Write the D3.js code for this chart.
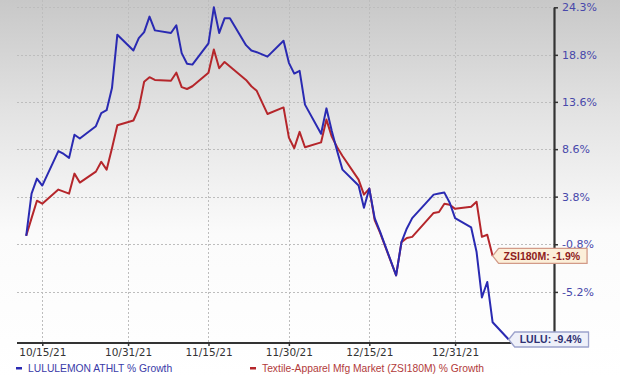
<!DOCTYPE html>
<html><head><meta charset="utf-8">
<script src="https://cdn.jsdelivr.net/npm/d3@7"></script>
<style>html,body{margin:0;padding:0;background:#fff}svg{display:block}</style>
</head><body>
<svg id="c" width="620" height="378"></svg>
<script>
const dates = [
"2021-10-12","2021-10-13","2021-10-14","2021-10-15",
"2021-10-18","2021-10-19","2021-10-20","2021-10-21","2021-10-22",
"2021-10-25","2021-10-26","2021-10-27","2021-10-28","2021-10-29",
"2021-11-01","2021-11-02","2021-11-03","2021-11-04","2021-11-05",
"2021-11-08","2021-11-09","2021-11-10","2021-11-11","2021-11-12",
"2021-11-15","2021-11-16","2021-11-17","2021-11-18","2021-11-19",
"2021-11-22","2021-11-23","2021-11-24","2021-11-26",
"2021-11-29","2021-11-30","2021-12-01","2021-12-02","2021-12-03",
"2021-12-06","2021-12-07","2021-12-08","2021-12-09","2021-12-10",
"2021-12-13","2021-12-14","2021-12-15","2021-12-16","2021-12-17",
"2021-12-20","2021-12-21","2021-12-22","2021-12-23",
"2021-12-27","2021-12-28","2021-12-29","2021-12-30","2021-12-31",
"2022-01-03","2022-01-04","2022-01-05","2022-01-06","2022-01-07",
"2022-01-10"];
const luluValues = [
0, 4.1, 5.6, 4.9,
8.4, 8.1, 7.7, 10.1, 9.7,
11.0, 12.4, 12.7, 15.1, 21.1,
19.3, 20.7, 21.4, 23.2, 21.6,
21.3, 22.2, 19.0, 17.8, 17.7,
20.1, 24.3, 21.3, 23.0, 23.0,
19.9, 19.3, 19.1, 18.6,
20.4, 17.9, 16.7, 17.0, 13.3,
10.2, 12.9, 10.5, 8.4, 6.5,
4.9, 2.7, 4.6, 1.7, 0.4,
-3.7, -0.6, 0.7, 1.7,
4.0, 4.1, 4.2, 3.2, 1.7,
0.8, -1.5, -5.7, -4.3, -7.9,
-9.4];
const zsiValues = [
0, 1.7, 3.4, 3.1,
4.5, 4.3, 4.1, 6.1, 5.2,
6.3, 7.3, 6.5, 8.7, 11.1,
11.6, 12.9, 15.8, 16.3, 16.0,
15.9, 16.8, 15.2, 15.0, 15.3,
16.8, 19.4, 17.3, 18.0, 17.5,
16.0, 15.3, 14.8, 12.3,
13.0, 9.8, 8.7, 10.4, 8.8,
9.3, 11.7, 9.9, 8.8, 7.9,
5.5, 4.0, 4.6, 1.5, 0.3,
-3.7, -0.6, -0.2, -0.1,
2.2, 2.3, 3.1, 3.0, 2.6,
2.8, 3.3, -0.1, 0.1, -1.9];
const yTickValues = [24.3, 18.8, 13.6, 8.6, 3.8, -0.8, -5.2];
const yTickLabels = ["24.3%", "18.8%", "13.6%", "8.6%", "3.8%", "-0.8%", "-5.2%"];
const xTickDates = ["2021-10-15","2021-10-31","2021-11-15","2021-11-30","2021-12-15","2021-12-31"];
const xTickLabels = ["10/15/21","10/31/21","11/15/21","11/30/21","12/15/21","12/31/21"];
const seriesNames = ["LULULEMON ATHLT % Growth", "Textile-Apparel Mfg Market (ZSI180M) % Growth"];
const endLabels = ["LULU: -9.4%", "ZSI180M: -1.9%"];
const yMin = -9.7, yMax = 24.3;

const svg = d3.select("#c");
const plot = {left: 17, right: 554, top: 0, bottom: 343};
const parse = d3.utcParse("%Y-%m-%d");
const x = d3.scaleUtc().domain([parse(dates[0]), parse(dates[dates.length - 1])]).range([26.2, 508.7]);
const y = d3.scaleLog().domain([1 + yMin / 100, 1 + yMax / 100]).range([plot.bottom, 7.3]);
const yv = v => y(1 + v / 100);

// background gradient
const defs = svg.append("defs");
const grad = defs.append("linearGradient").attr("id", "bg").attr("x1", 0).attr("y1", 0).attr("x2", 0).attr("y2", 1);
grad.append("stop").attr("offset", "0").attr("stop-color", "#c8c8c8");
grad.append("stop").attr("offset", "0.3").attr("stop-color", "#e3e3e3");
grad.append("stop").attr("offset", "0.62").attr("stop-color", "#fbfbfb");
grad.append("stop").attr("offset", "1").attr("stop-color", "#ffffff");
svg.append("rect").attr("width", 620).attr("height", 378).attr("fill", "url(#bg)");

// gridlines
const grid = svg.append("g").attr("stroke", "#bdbdbd").attr("stroke-width", 1).attr("stroke-dasharray", "2,2").attr("fill", "none");
grid.selectAll("line.h").data(yTickValues).join("line").attr("class", "h")
  .attr("x1", plot.left).attr("x2", plot.right)
  .attr("y1", d => Math.round(yv(d)) + 0.5).attr("y2", d => Math.round(yv(d)) + 0.5);
grid.selectAll("line.v").data(xTickDates).join("line").attr("class", "v")
  .attr("x1", d => Math.round(x(parse(d))) + 0.5).attr("x2", d => Math.round(x(parse(d))) + 0.5)
  .attr("y1", plot.top).attr("y2", plot.bottom);

// lines
const line = d3.line().x(d => x(d.date)).y(d => yv(d.v));
const luluData = luluValues.map((v, i) => ({date: parse(dates[i]), v}));
const zsiData = zsiValues.map((v, i) => ({date: parse(dates[i]), v}));
const colors = ["#2a2ab2", "#b5262b"];
svg.append("path").datum(zsiData).attr("d", line).attr("fill", "none").attr("stroke", colors[1]).attr("stroke-width", 2).attr("stroke-linejoin", "round");
svg.append("path").datum(luluData).attr("d", line).attr("fill", "none").attr("stroke", colors[0]).attr("stroke-width", 2).attr("stroke-linejoin", "round");

// right axis
const yAxis = d3.axisRight(y)
  .tickValues(yTickValues.map(v => 1 + v / 100))
  .tickFormat((d, i) => yTickLabels[i])
  .tickSize(4).tickSizeOuter(0).tickPadding(4);
const ya = svg.append("g").attr("transform", `translate(${plot.right},0)`).call(yAxis);
ya.select(".domain").attr("stroke", "#333").attr("stroke-width", 2.2);
ya.selectAll(".tick line").attr("stroke", "#333").attr("stroke-width", 1.5);
ya.selectAll(".tick text").attr("fill", "#4848aa").attr("font-family", "'DejaVu Sans', Verdana, sans-serif").attr("font-size", 11);

// bottom axis
const xAxis = d3.axisBottom(x)
  .tickValues(xTickDates.map(parse))
  .tickFormat((d, i) => xTickLabels[i])
  .tickSize(3).tickSizeOuter(0).tickPadding(3);
const xa = svg.append("g").attr("transform", `translate(0,${plot.bottom})`).call(xAxis);
xa.select(".domain").remove();
xa.selectAll(".tick line").attr("stroke", "#333").attr("stroke-width", 1.5);
xa.selectAll(".tick text").attr("fill", "#333").attr("font-family", "'DejaVu Sans', Verdana, sans-serif").attr("font-size", 10.5);
svg.append("line").attr("x1", plot.left).attr("x2", plot.right + 1).attr("y1", plot.bottom).attr("y2", plot.bottom)
  .attr("stroke", "#333").attr("stroke-width", 2.2);

// end labels
function endLabel(pt, text, fill, stroke, color) {
  const tx = x(pt.date), ty = yv(pt.v);
  const g = svg.append("g");
  const path = g.append("path");
  const bx = tx + 6;
  const t = g.append("text").attr("x", bx + 5).attr("y", ty).attr("dy", "0.35em")
    .attr("font-family", "'Liberation Sans', Arial, sans-serif").attr("font-weight", "bold").attr("font-size", 10.5)
    .attr("fill", color).text(text);
  const w = t.node().getComputedTextLength();
  const br = bx + 5 + w + 7;
  path.attr("d", `M${tx},${ty}L${bx},${ty - 7.5}H${br}V${ty + 7.5}H${bx}Z`)
    .attr("fill", fill).attr("stroke", stroke).attr("stroke-width", 1.3).attr("stroke-linejoin", "round");
}
endLabel(zsiData[zsiData.length - 1], endLabels[1], "#fcefd9", "#d29a88", "#8e2020");
endLabel(luluData[luluData.length - 1], endLabels[0], "#eef0f9", "#9ca2cc", "#2f3172");

// legend
const leg = svg.append("g").attr("font-family", "'Liberation Sans', Arial, sans-serif").attr("font-size", 10.3);
const legX = [16, 250];
seriesNames.forEach((name, i) => {
  leg.append("rect").attr("x", legX[i]).attr("y", 367).attr("width", 6).attr("height", 2.5).attr("fill", colors[i]);
  leg.append("text").attr("x", legX[i] + 12).attr("y", 368).attr("dy", "0.35em").attr("fill", i === 0 ? "#3a3aa8" : "#b23a3a").text(name);
});
</script>
</body></html>
